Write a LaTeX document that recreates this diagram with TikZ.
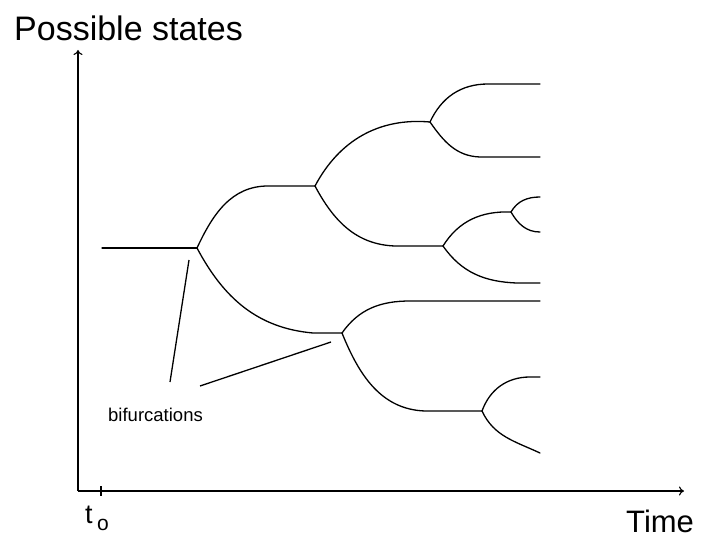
\documentclass[tikz,border=0pt]{standalone}
\usepackage{fontspec}
\setmainfont{Liberation Sans}
\usetikzlibrary{arrows.meta}
\begin{document}
\begin{tikzpicture}[x=1pt,y=-1pt,
  branch/.style={line width=1.3pt, line cap=round, line join=round},
  axis/.style={line width=1.1pt, -{To[length=5pt,width=9pt]}},
  pointer/.style={line width=1.3pt},
  lbl/.style={inner sep=0pt, anchor=base west}]
\useasboundingbox (0,0) rectangle (703,540);
% axes
\coordinate (O) at (78,491);
\coordinate (Ytop) at (78,50);
\coordinate (Xend) at (684,491);
\draw[axis] (O) -- (Ytop);
\draw[axis] (O) -- (Xend);
\coordinate (tk1) at (101,486);
\coordinate (tk2) at (101,496);
\draw[line width=1.1pt] (tk1) -- (tk2);
% labels
\node[lbl, font=\fontsize{34}{38}\selectfont] (ps) at (14,41) {Possible states};
\node[lbl, font=\fontsize{31}{36}\selectfont] (time) at (626,532) {Time};
\node[lbl, font=\fontsize{27}{30}\selectfont] (t) at (85,523) {t};
\node[lbl, font=\fontsize{21}{24}\selectfont] (o) at (97,530) {o};
\node[lbl, font=\fontsize{18.5}{22}\selectfont] (bif) at (108,421) {bifurcations};
% tree coordinates
\coordinate (s) at (102,248);
\coordinate (b1) at (197,248);
\coordinate (u1) at (268,186);
\coordinate (b2) at (315,186);
\coordinate (l1) at (313,333);
\coordinate (b3) at (342,333);
\coordinate (b4) at (430,122);
\coordinate (u4) at (488,84);
\coordinate (e1) at (540,84);
\coordinate (d4) at (480,157);
\coordinate (e2) at (540,157);
\coordinate (d2) at (395,246);
\coordinate (b5) at (443,246);
\coordinate (b6) at (511,212);
\coordinate (e3) at (540,197);
\coordinate (e4) at (540,232);
\coordinate (d5) at (517,283);
\coordinate (e5) at (540,283);
\coordinate (u3) at (410,301);
\coordinate (e6) at (540,301);
\coordinate (d3) at (425,411);
\coordinate (b7) at (482,411);
\coordinate (u7) at (530,377);
\coordinate (e7) at (540,377);
\coordinate (e8) at (540,453);
% branches
\draw[branch] (s) -- (b1);
\draw[branch] (b1) to[out=65,in=180] (u1) -- (b2);
\draw[branch] (b1) to[out=-62,in=175] (l1) -- (b3);
\draw[branch] (b2) to[out=62,in=175] (b4);
\draw[branch] (b4) to[out=65,in=180] (u4) -- (e1);
\draw[branch] (b4) to[out=-55,in=178] (d4) -- (e2);
\draw[branch] (b2) to[out=-62,in=178] (d2) -- (b5);
\draw[branch] (b5) to[out=58,in=178] (b6);
\draw[branch] (b6) to[out=60,in=180] (e3);
\draw[branch] (b6) to[out=-60,in=180] (e4);
\draw[branch] (b5) to[out=-55,in=178] (d5) -- (e5);
\draw[branch] (b3) to[out=55,in=180] (u3) -- (e6);
\draw[branch] (b3) to[out=-68,in=178] (d3) -- (b7);
\draw[branch] (b7) to[out=70,in=180] (u7) -- (e7);
\draw[branch] (b7) to[out=-65,in=155] (e8);
% pointers
\coordinate (p1a) at (189,260);
\coordinate (p1b) at (170,382);
\coordinate (p2a) at (331,342);
\coordinate (p2b) at (200,386);
\draw[pointer] (p1a) -- (p1b);
\draw[pointer] (p2a) -- (p2b);
\end{tikzpicture}
\end{document}
